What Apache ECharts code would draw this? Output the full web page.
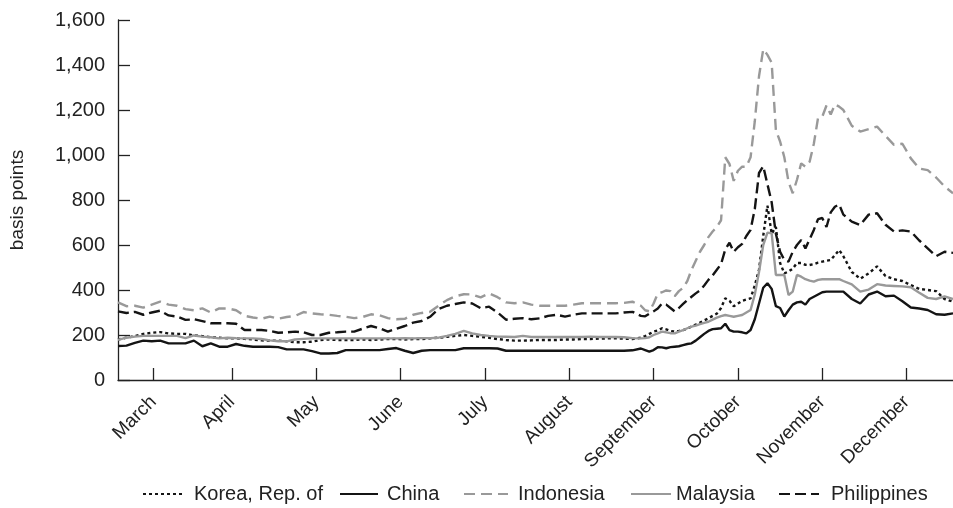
<!DOCTYPE html>
<html><head><meta charset="utf-8">
<script src="https://cdn.jsdelivr.net/npm/echarts@6/dist/echarts.min.js"></script>
<style>html,body{margin:0;padding:0;background:#fff}#c{width:953px;height:508px}</style>
</head><body><div id="c"></div>
<script>
const monthNames = ['March','April','May','June','July','August','September','October','November','December'];
const monthTicks = [8.4,27,47,67,87,107,127,147,167,187];
const yTicks = [0,200,400,600,800,1000,1200,1400,1600];
const days = [0,2,4,6,8,10,12,14,16,18,20,22,24,26,28,30,32,34,36,38,40,42,44,46,48,50,52,54,56,58,60,62,64,66,68,70,72,74,76,78,80,82,84,86,88,90,92,94,96,98,100,102,104,106,108,110,112,114,116,118,120,122,124,
125,126,127,128,129,130,131,132,133,134,135,136,137,138,139,140,141,142,143,144,145,146,147,148,149,150,151,152,153,154,155,156,157,158,159,160,161,162,163,164,165,166,167,168,169,170,171,172,
174,176,178,180,182,184,186,188,190,192,194,196,198];

const indonesia = [345,328,330,322,335,348,335,330,315,310, 318,300,318,318,310,285,278,272,282,272, 280,285,302,296,292,290,285,281,275,280, 292,288,275,270,272,290,298,303,330,355, 372,381,380,367,385,368,345,341,345,335, 330,330,330,330,335,341,341,341,341,341, 343,348,330,
310,305,340,385,390,398,395,372,395,410, 440,490,530,570,600,635,660,680,710,990, 960,885,930,948,948,990,1150,1350,1470,1445, 1410,1110,1060,990,880,830,890,963,948,970, 1050,1165,1170,1220,1180,1225,1215,1200,
1130,1104,1115,1126,1085,1045,1050,985,940,933,900,860,830];

const philippines = [305,298,303,290,300,308,287,282,267,270, 262,252,252,252,250,222,222,222,218,210, 212,215,212,200,200,210,212,215,215,228, 240,230,215,228,240,255,262,281,315,330, 338,345,340,319,326,300,268,272,275,270, 274,285,290,282,290,296,296,296,296,296, 300,303,285,
283,295,305,318,340,335,320,305,320,338, 355,370,385,398,420,445,465,490,515,580, 610,570,590,605,640,667,760,920,950,870, 790,650,570,533,526,570,600,622,585,625, 667,715,720,680,745,770,780,735,
704,689,735,741,690,660,665,660,620,585,550,570,565];

const korea = [180,188,195,205,210,213,207,205,205,198, 195,190,188,185,185,183,180,176,175,175, 172,168,168,170,178,180,178,178,178,180, 178,180,182,182,180,182,182,185,188,192, 196,200,196,192,188,182,178,175,175,176, 178,178,178,180,180,182,182,184,185,185, 184,182,188,
195,205,215,220,230,225,218,215,218,222, 228,238,246,255,265,274,285,295,320,363, 352,328,340,352,358,363,420,490,640,775, 650,680,520,474,482,495,520,520,512,511, 515,522,526,530,533,555,578,550,
480,450,474,505,462,448,440,422,405,400,395,360,348];

const malaysia = [178,188,193,196,196,196,196,196,186,198, 193,190,185,188,186,185,185,182,176,172, 172,180,183,185,185,185,185,185,185,185, 185,185,185,185,186,185,186,186,188,196, 205,218,207,200,196,193,192,191,196,191, 191,191,191,191,191,191,193,191,191,191, 190,186,185,
186,190,200,207,215,212,208,207,215,222, 230,237,242,248,254,259,268,277,284,289, 285,281,285,289,300,311,380,480,600,655, 652,467,467,467,378,393,467,459,448,442, 437,445,448,448,448,448,448,440,
425,393,402,426,420,418,416,412,388,365,360,372,360];

const china = [151,153,165,175,172,175,163,163,163,175, 150,163,148,148,160,152,148,148,148,146, 136,136,136,128,118,118,120,133,133,133, 133,133,138,142,130,120,130,133,133,133, 133,141,141,141,141,140,130,130,130,130, 130,130,130,130,130,130,130,130,130,130, 130,132,140,
133,126,133,146,145,141,146,148,150,155, 160,163,175,190,205,218,226,228,230,250, 222,215,215,212,207,222,270,340,410,430, 405,328,320,282,310,335,345,348,335,360, 370,380,390,393,393,393,393,393,
360,340,380,393,372,375,350,322,318,311,292,290,296];

const seriesNames = ['Korea, Rep. of','China','Indonesia','Malaysia','Philippines'];

const FONT = '"Liberation Sans", Arial, Helvetica, sans-serif';
const BLACK = '#141414', GREY = '#999999', AXIS = '#222';
function pairs(vals){ return vals.map((v,i)=>[days[i], v]); }
function mk(name, vals, color, type){
  return { name, type:'line', data: pairs(vals), showSymbol:false, symbol:'none', animation:false,
    lineStyle:{ color, width:2.4, type }, itemStyle:{ color } };
}
// one legend block per entry, positioned like the reference
const legendSpec = [
  { left:142, w:42, pad:4 },
  { left:339, w:38, pad:4 },
  { left:463, w:44, pad:5 },
  { left:630, w:40, pad:0 },
  { left:778, w:40, pad:7 }
];
const legends = legendSpec.map((s, k) => ({
  data:[seriesNames[k]], left:s.left, top:484, padding:0,
  itemWidth:s.w, itemHeight:14, itemGap:0,
  itemStyle:{ opacity:0 },
  textStyle:{ fontSize:20, color:AXIS, fontFamily:FONT, padding:[0,0,0,s.pad] }
}));

const chart = echarts.init(document.getElementById('c'), null, {renderer:'canvas'});
chart.setOption({
  backgroundColor:'#fff',
  animation:false,
  textStyle:{ fontFamily: FONT },
  grid:{ left:113, right:0, top:20, bottom:128, containLabel:false },
  legend: legends,
  xAxis:{
    type:'value', min:0, max:198,
    splitLine:{show:false},
    axisLine:{ lineStyle:{ color:AXIS, width:1.3 } },
    axisTick:{ inside:true, length:12, customValues: monthTicks, lineStyle:{ color:AXIS, width:1.3 } },
    axisLabel:{ customValues: monthTicks, rotate:45, margin:19, fontSize:19, color:AXIS, fontFamily:FONT,
      formatter: v => { const k = monthTicks.findIndex(t => Math.abs(t - v) < 0.01); return k >= 0 ? monthNames[k] : ''; } }
  },
  yAxis:{
    type:'value', min:0, max:1600, interval:200,
    name:'basis points', nameLocation:'middle', nameRotate:90, nameGap:91,
    nameTextStyle:{ fontSize:19, color:AXIS, fontFamily:FONT },
    splitLine:{show:false},
    axisLine:{ show:true, lineStyle:{ color:AXIS, width:1.3 } },
    axisTick:{ show:true, inside:true, length:12, lineStyle:{ color:AXIS, width:1.3 } },
    axisLabel:{ margin:13, fontSize:20, color:AXIS, fontFamily:FONT,
      formatter: v => v.toLocaleString('en-US') }
  },
  series:[
    mk(seriesNames[0], korea, BLACK, [3,3]),
    mk(seriesNames[1], china, BLACK, 'solid'),
    mk(seriesNames[2], indonesia, GREY, [11,6]),
    mk(seriesNames[3], malaysia, GREY, 'solid'),
    mk(seriesNames[4], philippines, BLACK, [11,5])
  ]
});
</script></body></html>
